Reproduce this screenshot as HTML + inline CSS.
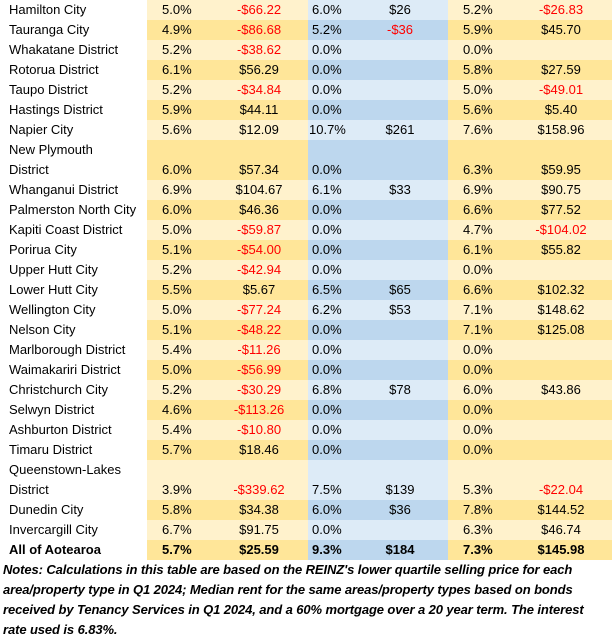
<!DOCTYPE html>
<html><head><meta charset="utf-8"><style>
*{margin:0;padding:0;box-sizing:border-box}
body{width:612px;height:640px;background:#fff;font-family:"Liberation Sans",sans-serif;font-size:13px;color:#000;overflow:hidden}
table{border-collapse:collapse;table-layout:fixed;width:612px}
td{height:20px;padding:0;vertical-align:bottom;line-height:20px;white-space:nowrap;overflow:hidden}
tr.t td{height:40px}
td.n{padding-left:9px;line-height:20px;white-space:normal}
td.p{padding-left:15px}
td.q{padding-left:4px}
td.d{text-align:center}
tr.l .y{background:#FFF2CC} tr.l .b{background:#DDEBF7}
tr.k .y{background:#FFE699} tr.k .b{background:#BDD7EE}
.r{color:#FF0000}
tr.all td{font-weight:bold}
.notes{font-weight:bold;font-style:italic;font-size:13px;line-height:20px;padding-left:3px;white-space:nowrap;letter-spacing:-0.1px}
</style></head><body>
<table>
<colgroup><col style="width:147px"><col style="width:63px"><col style="width:98px"><col style="width:44px"><col style="width:96px"><col style="width:62px"><col style="width:102px"></colgroup>
<tr class="l"><td class="n">Hamilton City</td><td class="y p">5.0%</td><td class="y d r">-$66.22</td><td class="b q">6.0%</td><td class="b d">$26</td><td class="y p">5.2%</td><td class="y d r">-$26.83</td></tr>
<tr class="k"><td class="n">Tauranga City</td><td class="y p">4.9%</td><td class="y d r">-$86.68</td><td class="b q">5.2%</td><td class="b d r">-$36</td><td class="y p">5.9%</td><td class="y d">$45.70</td></tr>
<tr class="l"><td class="n">Whakatane District</td><td class="y p">5.2%</td><td class="y d r">-$38.62</td><td class="b q">0.0%</td><td class="b d"></td><td class="y p">0.0%</td><td class="y d"></td></tr>
<tr class="k"><td class="n">Rotorua District</td><td class="y p">6.1%</td><td class="y d">$56.29</td><td class="b q">0.0%</td><td class="b d"></td><td class="y p">5.8%</td><td class="y d">$27.59</td></tr>
<tr class="l"><td class="n">Taupo District</td><td class="y p">5.2%</td><td class="y d r">-$34.84</td><td class="b q">0.0%</td><td class="b d"></td><td class="y p">5.0%</td><td class="y d r">-$49.01</td></tr>
<tr class="k"><td class="n">Hastings District</td><td class="y p">5.9%</td><td class="y d">$44.11</td><td class="b q">0.0%</td><td class="b d"></td><td class="y p">5.6%</td><td class="y d">$5.40</td></tr>
<tr class="l"><td class="n">Napier City</td><td class="y p">5.6%</td><td class="y d">$12.09</td><td class="b q" style="padding-left:1px">10.7%</td><td class="b d">$261</td><td class="y p">7.6%</td><td class="y d">$158.96</td></tr>
<tr class="k t"><td class="n">New Plymouth<br>District</td><td class="y p">6.0%</td><td class="y d">$57.34</td><td class="b q">0.0%</td><td class="b d"></td><td class="y p">6.3%</td><td class="y d">$59.95</td></tr>
<tr class="l"><td class="n">Whanganui District</td><td class="y p">6.9%</td><td class="y d">$104.67</td><td class="b q">6.1%</td><td class="b d">$33</td><td class="y p">6.9%</td><td class="y d">$90.75</td></tr>
<tr class="k"><td class="n">Palmerston North City</td><td class="y p">6.0%</td><td class="y d">$46.36</td><td class="b q">0.0%</td><td class="b d"></td><td class="y p">6.6%</td><td class="y d">$77.52</td></tr>
<tr class="l"><td class="n">Kapiti Coast District</td><td class="y p">5.0%</td><td class="y d r">-$59.87</td><td class="b q">0.0%</td><td class="b d"></td><td class="y p">4.7%</td><td class="y d r">-$104.02</td></tr>
<tr class="k"><td class="n">Porirua City</td><td class="y p">5.1%</td><td class="y d r">-$54.00</td><td class="b q">0.0%</td><td class="b d"></td><td class="y p">6.1%</td><td class="y d">$55.82</td></tr>
<tr class="l"><td class="n">Upper Hutt City</td><td class="y p">5.2%</td><td class="y d r">-$42.94</td><td class="b q">0.0%</td><td class="b d"></td><td class="y p">0.0%</td><td class="y d"></td></tr>
<tr class="k"><td class="n">Lower Hutt City</td><td class="y p">5.5%</td><td class="y d">$5.67</td><td class="b q">6.5%</td><td class="b d">$65</td><td class="y p">6.6%</td><td class="y d">$102.32</td></tr>
<tr class="l"><td class="n">Wellington City</td><td class="y p">5.0%</td><td class="y d r">-$77.24</td><td class="b q">6.2%</td><td class="b d">$53</td><td class="y p">7.1%</td><td class="y d">$148.62</td></tr>
<tr class="k"><td class="n">Nelson City</td><td class="y p">5.1%</td><td class="y d r">-$48.22</td><td class="b q">0.0%</td><td class="b d"></td><td class="y p">7.1%</td><td class="y d">$125.08</td></tr>
<tr class="l"><td class="n">Marlborough District</td><td class="y p">5.4%</td><td class="y d r">-$11.26</td><td class="b q">0.0%</td><td class="b d"></td><td class="y p">0.0%</td><td class="y d"></td></tr>
<tr class="k"><td class="n">Waimakariri District</td><td class="y p">5.0%</td><td class="y d r">-$56.99</td><td class="b q">0.0%</td><td class="b d"></td><td class="y p">0.0%</td><td class="y d"></td></tr>
<tr class="l"><td class="n">Christchurch City</td><td class="y p">5.2%</td><td class="y d r">-$30.29</td><td class="b q">6.8%</td><td class="b d">$78</td><td class="y p">6.0%</td><td class="y d">$43.86</td></tr>
<tr class="k"><td class="n">Selwyn District</td><td class="y p">4.6%</td><td class="y d r">-$113.26</td><td class="b q">0.0%</td><td class="b d"></td><td class="y p">0.0%</td><td class="y d"></td></tr>
<tr class="l"><td class="n">Ashburton District</td><td class="y p">5.4%</td><td class="y d r">-$10.80</td><td class="b q">0.0%</td><td class="b d"></td><td class="y p">0.0%</td><td class="y d"></td></tr>
<tr class="k"><td class="n">Timaru District</td><td class="y p">5.7%</td><td class="y d">$18.46</td><td class="b q">0.0%</td><td class="b d"></td><td class="y p">0.0%</td><td class="y d"></td></tr>
<tr class="l t"><td class="n">Queenstown-Lakes<br>District</td><td class="y p">3.9%</td><td class="y d r">-$339.62</td><td class="b q">7.5%</td><td class="b d">$139</td><td class="y p">5.3%</td><td class="y d r">-$22.04</td></tr>
<tr class="k"><td class="n">Dunedin City</td><td class="y p">5.8%</td><td class="y d">$34.38</td><td class="b q">6.0%</td><td class="b d">$36</td><td class="y p">7.8%</td><td class="y d">$144.52</td></tr>
<tr class="l"><td class="n">Invercargill City</td><td class="y p">6.7%</td><td class="y d">$91.75</td><td class="b q">0.0%</td><td class="b d"></td><td class="y p">6.3%</td><td class="y d">$46.74</td></tr>
<tr class="k all"><td class="n">All of Aotearoa</td><td class="y p">5.7%</td><td class="y d">$25.59</td><td class="b q">9.3%</td><td class="b d">$184</td><td class="y p">7.3%</td><td class="y d">$145.98</td></tr>
</table>
<div class="notes">Notes: Calculations in this table are based on the REINZ's lower quartile selling price for each<br>area/property type in Q1 2024; Median rent for the same areas/property types based on bonds<br>received by Tenancy Services in Q1 2024, and a 60% mortgage over a 20 year term. The interest<br>rate used is 6.83%.</div>
</body></html>
